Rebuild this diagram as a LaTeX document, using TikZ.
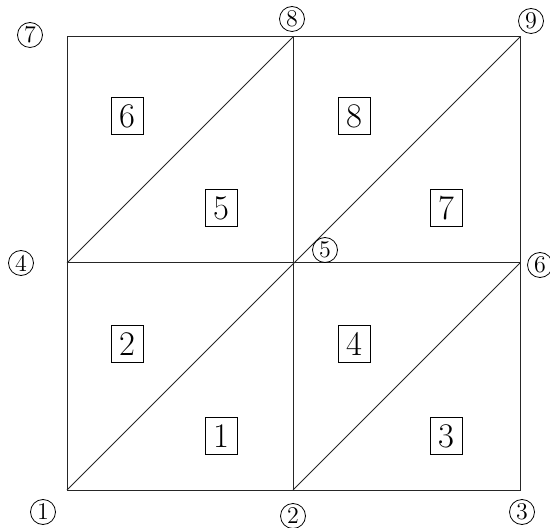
\documentclass[tikz,border=0pt]{standalone}
\usepackage{tikz}
\usetikzlibrary{positioning}

\begin{document}
\begin{tikzpicture}[
    x=0.5pt, y=-0.5pt,
    edge/.style={line width=0.5pt, black!85},
    vertexlabel/.style={
        draw,
        circle,
        line width=0.4pt,
        minimum size=12.5pt,
        inner sep=0.3pt,
        font=\large
    },
    elembox/.style={
        draw,
        line width=0.45pt,
        minimum width=16pt,
        minimum height=18.5pt,
        inner sep=0pt,
        font=\LARGE
    }
]
\useasboundingbox (0,0) rectangle (550,528);

% mesh points
\coordinate (p1) at (67,490);
\coordinate (p2) at (293,490);
\coordinate (p3) at (520,490);
\coordinate (p4) at (67,263);
\coordinate (p5) at (293,263);
\coordinate (p6) at (520,263);
\coordinate (p7) at (67,37);
\coordinate (p8) at (293,37);
\coordinate (p9) at (520,37);

\draw[edge] (p1) -- (p3) -- (p9) -- (p7) -- cycle;
\draw[edge] (p4) -- (p6);
\draw[edge] (p2) -- (p8);
\draw[edge] (p1) -- (p9);
\draw[edge] (p4) -- (p8);
\draw[edge] (p2) -- (p6);

% node numbers
\node[vertexlabel] (n1) at (43,512) {1};
\node[vertexlabel] (n2) at (293,516) {2};
\node[vertexlabel] (n3) at (522,512) {3};
\node[vertexlabel] (n4) at (21,263) {4};
\node[vertexlabel] (n5) at (325,250) {5};
\node[vertexlabel] (n6) at (540,265) {6};
\node[vertexlabel] (n7) at (30,35) {7};
\node[vertexlabel] (n8) at (292,19) {8};
\node[vertexlabel] (n9) at (531,21) {9};

% element numbers
\node[elembox] (e1) at (221,436) {1};
\node[elembox] (e2) at (127,344) {2};
\node[elembox] (e3) at (446,436) {3};
\node[elembox] (e4) at (354,344) {4};
\node[elembox] (e5) at (221,208) {5};
\node[elembox] (e6) at (127,116) {6};
\node[elembox] (e7) at (446,208) {7};
\node[elembox] (e8) at (354,116) {8};
\end{tikzpicture}
\end{document}
